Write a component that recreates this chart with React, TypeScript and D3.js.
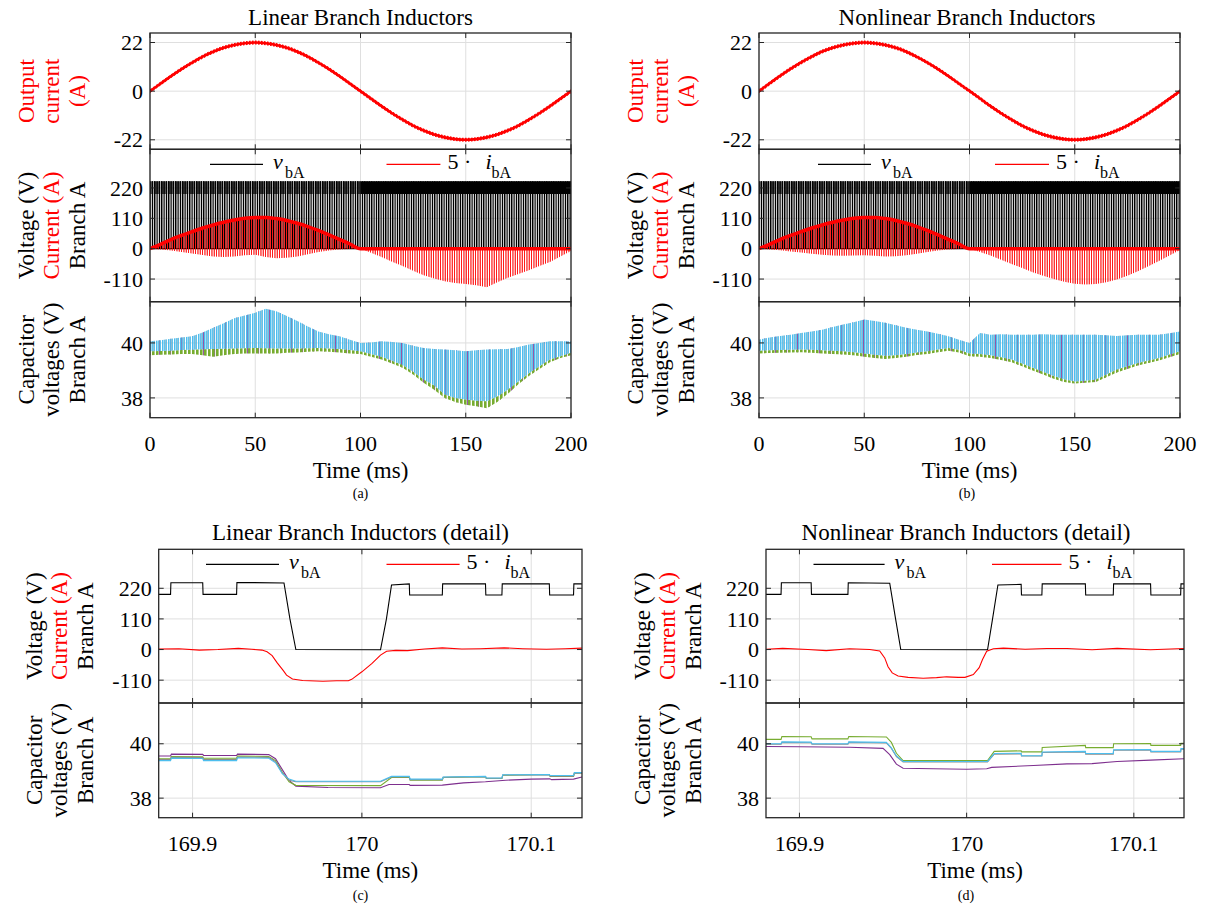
import React from 'react';
import * as d3 from 'd3';

const SERIF = '"Liberation Serif", "Times New Roman", Tinos, "DejaVu Serif", serif';
const GRID = '#dfdfdf';
const AXIS = '#262626';
const RED = '#ff0000';
const CAP_PURPLE = '#7e2f8e';
const CAP_GREEN = '#77ac30';
const CAP_GRAY = '#8c8c8c';
const CAP_CYAN = '#4dbeee';

// ---------------- data: full 200 ms runs ----------------
const timeFull = [0, 5, 10, 15, 20, 25, 30, 35, 40, 45, 50, 55, 60, 65, 70, 75, 80, 85, 90, 95, 100,
  105, 110, 115, 120, 125, 130, 135, 140, 145, 150, 155, 160, 165, 170, 175, 180, 185, 190, 195, 200];

const outputCurrentA = [0, 3.4, 6.8, 10.0, 12.9, 15.6, 17.8, 19.6, 20.9, 21.7, 22.0, 21.7, 20.9, 19.6, 17.8, 15.6, 12.9, 10.0, 6.8, 3.4, 0,
  -3.4, -6.8, -10.0, -12.9, -15.6, -17.8, -19.6, -20.9, -21.7, -22.0, -21.7, -20.9, -19.6, -17.8, -15.6, -12.9, -10.0, -6.8, -3.4, 0];
const outputCurrentB = [0, 3.5, 6.9, 10.1, 13.0, 15.6, 17.9, 19.6, 20.9, 21.7, 22.0, 21.7, 20.9, 19.6, 17.8, 15.5, 12.9, 10.0, 6.8, 3.4, 0.1,
  -3.3, -6.8, -10.0, -12.9, -15.6, -17.8, -19.6, -20.9, -21.7, -22.0, -21.7, -20.9, -19.6, -17.8, -15.6, -12.9, -10.0, -6.8, -3.4, 0];
const outputRipple = [0.9, 0.9]; // A, half-width of switching ripple (a, b)

// branch voltage switching levels (V): zero, lower and upper level
const vbALevels = [0, 198, 244];
const vbADenseFrom = [100, 100]; // ms where the upper band becomes solid (a, b)

// 5 * i_bA envelopes
const currentHighA = [0, 16, 33, 48, 62, 75, 86, 96, 104, 110, 113, 113, 109, 102, 92, 80, 66, 50, 34, 17, 0,
  0, 0, 0, 0, 0, 0, 0, 0, 0, 0, 0, 0, 0, 0, 0, 0, 0, 0, 0, 0];
const currentLowA = [0, -3, -7, -12, -17, -23, -28, -30, -28, -24, -22, -30, -35, -33, -28, -20, -12, -7, -3, -1, 0,
  -15, -30, -47, -63, -80, -96, -108, -118, -124, -128, -132, -140, -122, -105, -92, -78, -63, -48, -28, -8];
const currentHighB = [0, 16, 33, 48, 62, 75, 86, 96, 104, 110, 113, 113, 109, 102, 92, 80, 66, 50, 34, 17, 0,
  0, 0, 0, 0, 0, 0, 0, 0, 0, 0, 0, 0, 0, 0, 0, 0, 0, 0, 0, 0];
const currentLowB = [0, -3, -6, -10, -14, -18, -22, -25, -26, -25, -24, -26, -28, -27, -24, -18, -12, -7, -3, -1, 0,
  -12, -25, -40, -55, -70, -85, -98, -110, -120, -127, -130, -128, -122, -112, -98, -82, -64, -45, -25, -5];

// capacitor voltage envelopes (V)
const capTopA = [40.06, 40.1, 40.15, 40.2, 40.24, 40.38, 40.55, 40.72, 40.9, 41.0, 41.1, 41.24, 41.15, 40.98, 40.8, 40.6, 40.42, 40.32, 40.24, 40.12, 40.0,
  40.02, 40.06, 40.03, 40.0, 39.9, 39.82, 39.78, 39.76, 39.73, 39.7, 39.73, 39.76, 39.77, 39.78, 39.85, 39.94, 40.0, 40.06, 40.06, 40.06];
const capMidA = [39.7, 39.71, 39.72, 39.74, 39.75, 39.77, 39.78, 39.79, 39.8, 39.81, 39.82, 39.81, 39.8, 39.8, 39.8, 39.81, 39.82, 39.8, 39.78, 39.74, 39.7,
  39.6, 39.5, 39.35, 39.2, 38.95, 38.67, 38.45, 38.12, 38.0, 37.94, 37.9, 37.88, 38.05, 38.3, 38.6, 38.9, 39.15, 39.4, 39.52, 39.64];
const capBotA = [39.55, 39.57, 39.58, 39.6, 39.6, 39.55, 39.5, 39.55, 39.6, 39.62, 39.62, 39.62, 39.62, 39.64, 39.65, 39.68, 39.7, 39.68, 39.65, 39.62, 39.6,
  39.5, 39.4, 39.25, 39.1, 38.85, 38.55, 38.3, 38.0, 37.85, 37.75, 37.7, 37.62, 37.85, 38.15, 38.5, 38.8, 39.05, 39.3, 39.45, 39.55];

const capTopB = [40.12, 40.2, 40.25, 40.3, 40.36, 40.42, 40.48, 40.58, 40.67, 40.75, 40.85, 40.8, 40.73, 40.64, 40.55, 40.48, 40.42, 40.33, 40.24, 40.12, 40.0,
  40.36, 40.3, 40.32, 40.3, 40.3, 40.3, 40.32, 40.3, 40.3, 40.3, 40.3, 40.3, 40.28, 40.25, 40.28, 40.3, 40.3, 40.3, 40.35, 40.42];
const capMidB = [39.72, 39.73, 39.74, 39.75, 39.76, 39.75, 39.73, 39.72, 39.7, 39.66, 39.62, 39.57, 39.53, 39.55, 39.6, 39.65, 39.7, 39.76, 39.82, 39.75, 39.62,
  39.6, 39.55, 39.48, 39.4, 39.25, 39.1, 38.95, 38.8, 38.68, 38.6, 38.62, 38.67, 38.85, 39.03, 39.15, 39.27, 39.36, 39.45, 39.58, 39.7];
const capBotB = [39.62, 39.63, 39.64, 39.65, 39.66, 39.64, 39.62, 39.6, 39.58, 39.55, 39.5, 39.45, 39.42, 39.45, 39.5, 39.56, 39.6, 39.66, 39.72, 39.65, 39.52,
  39.5, 39.45, 39.38, 39.3, 39.15, 39.0, 38.85, 38.7, 38.58, 38.52, 38.55, 38.58, 38.75, 38.92, 39.05, 39.18, 39.27, 39.36, 39.48, 39.6];

// ---------------- data: detail around 170 ms ----------------
type Pt = [number, number];
const vbAC: Pt[] = [[169.88, 198], [169.887, 198], [169.8872, 240], [169.906, 240], [169.9062, 198], [169.926, 198], [169.9262, 241], [169.954, 239], [169.9575, 110], [169.961, 0], [170.011, -1], [170.0145, 110], [170.0175, 232], [170.028, 236], [170.0282, 196], [170.0475, 196], [170.0477, 236], [170.073, 236], [170.0732, 196], [170.0827, 196], [170.0829, 236], [170.1107, 236], [170.1109, 196], [170.125, 196], [170.1252, 236], [170.13, 236]];
const iAC: Pt[] = [[169.88, 2], [169.892, 3], [169.904, -2], [169.915, 0], [169.927, 4], [169.935, 1], [169.941, -2], [169.944, -8], [169.947, -22], [169.95, -48], [169.9535, -75], [169.9555, -92], [169.959, -106], [169.965, -111], [169.977, -114], [169.985, -112], [169.992, -112], [169.994, -107], [170.0, -80], [170.006, -50], [170.011, -20], [170.0146, -6], [170.02, -3], [170.027, -4], [170.037, 2], [170.0475, 6], [170.059, 2], [170.07, 3], [170.084, 6], [170.095, 3], [170.109, 1], [170.12, 3], [170.13, 5]];
const capPurpleC: Pt[] = [[169.88, 39.55], [169.887, 39.55], [169.8875, 39.62], [169.906, 39.61], [169.9065, 39.57], [169.926, 39.57], [169.9265, 39.62], [169.945, 39.6], [169.949, 39.45], [169.953, 39.05], [169.957, 38.65], [169.961, 38.44], [169.98, 38.39], [170.011, 38.38], [170.016, 38.5], [170.028, 38.5], [170.0285, 38.47], [170.0475, 38.48], [170.06, 38.56], [170.073, 38.6], [170.085, 38.66], [170.1, 38.7], [170.111, 38.71], [170.112, 38.68], [170.125, 38.7], [170.13, 38.78]];
const capGreenC: Pt[] = [[169.88, 39.45], [169.887, 39.45], [169.8875, 39.53], [169.906, 39.52], [169.9065, 39.47], [169.926, 39.47], [169.9265, 39.55], [169.945, 39.53], [169.949, 39.38], [169.953, 38.95], [169.957, 38.6], [169.961, 38.47], [170.011, 38.46], [170.0175, 38.76], [170.028, 38.76], [170.0285, 38.66], [170.0475, 38.66], [170.048, 38.76], [170.073, 38.79], [170.0735, 38.72], [170.0827, 38.72], [170.0832, 38.84], [170.1107, 38.87], [170.1112, 38.8], [170.125, 38.8], [170.1255, 38.92], [170.13, 38.93]];
const capGrayC: Pt[] = [[169.88, 39.42], [169.887, 39.42], [169.8875, 39.5], [169.906, 39.49], [169.9065, 39.42], [169.926, 39.42], [169.9265, 39.51], [169.945, 39.5], [169.949, 39.34], [169.953, 38.92], [169.957, 38.66], [169.961, 38.6], [170.011, 38.6], [170.0175, 38.78], [170.028, 38.78], [170.0285, 38.68], [170.0475, 38.68], [170.048, 38.77], [170.073, 38.79], [170.0735, 38.73], [170.0827, 38.73], [170.0832, 38.85], [170.1107, 38.86], [170.1112, 38.81], [170.125, 38.81], [170.1255, 38.92], [170.13, 38.92]];
const capCyanC: Pt[] = [[169.88, 39.38], [169.887, 39.38], [169.8875, 39.47], [169.906, 39.46], [169.9065, 39.38], [169.926, 39.38], [169.9265, 39.48], [169.945, 39.47], [169.949, 39.3], [169.953, 38.9], [169.957, 38.7], [169.961, 38.62], [170.011, 38.62], [170.0175, 38.8], [170.028, 38.8], [170.0285, 38.7], [170.0475, 38.7], [170.048, 38.78], [170.073, 38.8], [170.0735, 38.74], [170.0827, 38.74], [170.0832, 38.86], [170.1107, 38.87], [170.1112, 38.83], [170.125, 38.83], [170.1255, 38.94], [170.13, 38.94]];

const vbAD: Pt[] = [[169.88, 198], [169.889, 198], [169.8892, 240], [169.907, 240], [169.9072, 198], [169.929, 198], [169.9292, 240], [169.954, 238], [169.9575, 110], [169.9606, 0], [170.0125, -1], [170.0155, 110], [170.0187, 232], [170.0326, 234], [170.0328, 196], [170.045, 196], [170.0452, 236], [170.071, 236], [170.0712, 196], [170.0877, 196], [170.0879, 236], [170.11, 236], [170.1102, 196], [170.128, 196], [170.1282, 236], [170.13, 236]];
const iAD: Pt[] = [[169.88, 1], [169.89, 4], [169.905, 0], [169.916, -4], [169.93, 3], [169.942, 0], [169.948, -5], [169.951, -30], [169.953, -62], [169.9555, -84], [169.959, -95], [169.965, -100], [169.974, -103], [169.982, -101], [169.988, -98], [169.995, -100], [169.999, -100], [170.004, -90], [170.0075, -65], [170.0095, -36], [170.012, -6], [170.016, 3], [170.022, 5], [170.035, 1], [170.048, 4], [170.06, 4], [170.075, -1], [170.09, 4], [170.11, -1], [170.13, 4]];
const capGreenD: Pt[] = [[169.88, 40.16], [169.889, 40.16], [169.8895, 40.27], [169.907, 40.26], [169.9075, 40.18], [169.929, 40.18], [169.9295, 40.27], [169.952, 40.25], [169.955, 40.05], [169.958, 39.65], [169.962, 39.38], [170.0125, 39.38], [170.0165, 39.72], [170.0326, 39.74], [170.0328, 39.7], [170.045, 39.7], [170.0452, 39.86], [170.071, 39.94], [170.0712, 39.86], [170.0877, 39.86], [170.0879, 40.0], [170.11, 40.01], [170.1102, 39.94], [170.128, 39.94], [170.1282, 40.02], [170.13, 40.02]];
const capGrayD: Pt[] = [[169.88, 39.98], [169.889, 39.98], [169.8895, 40.05], [169.907, 40.04], [169.9075, 39.98], [169.929, 39.98], [169.9295, 40.05], [169.952, 40.03], [169.955, 39.83], [169.958, 39.53], [169.962, 39.33], [170.0125, 39.33], [170.0165, 39.62], [170.0326, 39.63], [170.0328, 39.55], [170.045, 39.55], [170.0452, 39.68], [170.071, 39.7], [170.0712, 39.62], [170.0877, 39.62], [170.0879, 39.76], [170.11, 39.77], [170.1102, 39.7], [170.128, 39.7], [170.1282, 39.8], [170.13, 39.8]];
const capCyanD: Pt[] = [[169.88, 40.0], [169.889, 40.0], [169.8895, 40.07], [169.907, 40.06], [169.9075, 40.0], [169.929, 40.0], [169.9295, 40.07], [169.952, 40.05], [169.955, 39.85], [169.958, 39.55], [169.962, 39.35], [170.0125, 39.35], [170.0165, 39.64], [170.0326, 39.65], [170.0328, 39.56], [170.045, 39.56], [170.0452, 39.7], [170.071, 39.72], [170.0712, 39.64], [170.0877, 39.64], [170.0879, 39.78], [170.11, 39.79], [170.1102, 39.72], [170.128, 39.72], [170.1282, 39.82], [170.13, 39.82]];
const capPurpleD: Pt[] = [[169.88, 39.9], [169.9, 39.89], [169.93, 39.87], [169.95, 39.83], [169.954, 39.6], [169.958, 39.25], [169.962, 39.1], [169.98, 39.08], [170.0, 39.06], [170.012, 39.08], [170.015, 39.13], [170.04, 39.2], [170.06, 39.26], [170.075, 39.27], [170.09, 39.35], [170.11, 39.4], [170.13, 39.45]];

// ---------------- axes ----------------
const xDomainFull = [0, 200];
const xDomainDetail = [169.88, 170.13];
const xTicksFull = [0, 50, 100, 150, 200];
const xTickLabelsFull = ['0', '50', '100', '150', '200'];
const xTicksDetail = [169.9, 170, 170.1];
const xTickLabelsDetail = ['169.9', '170', '170.1'];
const yDomainOut = [-26.3, 26.3];
const yTicksOut = [-22, 0, 22];
const yDomainBranch = [-192, 360];
const yTicksBranch = [-110, 0, 110, 220];
const yDomainCap = [37.28, 41.5];
const yTicksCap = [38, 40];

// ---------------- layout ----------------
const ROW_OUT = [33, 149.3];
const ROW_BR = [149.3, 301.7];
const ROW_CAP = [301.7, 417.7];
const ROW_BR_D = [549.3, 703];
const ROW_CAP_D = [703, 817.7];

const TXT: React.CSSProperties = { fontFamily: SERIF };

type Scale = d3.ScaleLinear<number, number>;

function Axes(props: { id: string; x: Scale; y: Scale; xTicks: number[]; yTicks: number[]; xTickLabels?: string[]; children?: React.ReactNode }) {
  const { id, x, y, xTicks, yTicks, xTickLabels, children } = props;
  const [L, R] = x.range();
  const [B, T] = y.range();
  const tk = 5;
  return (
    <g>
      <defs>
        <clipPath id={id}><rect x={L} y={T} width={R - L} height={B - T} /></clipPath>
      </defs>
      {xTicks.map(t => <line key={'gx' + t} x1={x(t)} x2={x(t)} y1={T} y2={B} stroke={GRID} strokeWidth={1} />)}
      {yTicks.map(v => <line key={'gy' + v} x1={L} x2={R} y1={y(v)} y2={y(v)} stroke={GRID} strokeWidth={1} />)}
      <g clipPath={`url(#${id})`}>{children}</g>
      {xTicks.map(t => (
        <g key={'tx' + t} stroke={AXIS} strokeWidth={1}>
          <line x1={x(t)} x2={x(t)} y1={T} y2={T + tk} />
          <line x1={x(t)} x2={x(t)} y1={B} y2={B - tk} />
        </g>
      ))}
      {yTicks.map(v => (
        <g key={'ty' + v} stroke={AXIS} strokeWidth={1}>
          <line x1={L} x2={L + tk} y1={y(v)} y2={y(v)} />
          <line x1={R} x2={R - tk} y1={y(v)} y2={y(v)} />
        </g>
      ))}
      <rect x={L} y={T} width={R - L} height={B - T} fill="none" stroke={AXIS} strokeWidth={1.3} />
      {yTicks.map(v => (
        <text key={'ly' + v} style={TXT} x={L - 7} y={y(v)} dy="0.35em" textAnchor="end" fontSize={22} fill="#000">{String(v)}</text>
      ))}
      {xTickLabels && xTicks.map((t, i) => (
        <text key={'lx' + t} style={TXT} x={x(t)} y={B + 33} textAnchor="middle" fontSize={22} fill="#000">{xTickLabels[i]}</text>
      ))}
    </g>
  );
}

function YLabel({ left, yc, lines }: { left: number; yc: number; lines: { text: string; color: string }[] }) {
  const offsets = [-124, -99, -73];
  return (
    <g>
      {lines.map((l, i) => (
        <text key={i} style={TXT} transform={`translate(${left + offsets[i]},${yc}) rotate(-90)`} textAnchor="middle"
          dominantBaseline="central" fill={l.color} fontSize={23}>{l.text}</text>
      ))}
    </g>
  );
}

function Legend({ bx0, bx1, rx0, rx1, top }: { bx0: number; bx1: number; rx0: number; rx1: number; top: number }) {
  const ly = top + 15;
  return (
    <g fontSize={22} fill="#000">
      <line x1={bx0} x2={bx1} y1={ly} y2={ly} stroke="#000" strokeWidth={1.2} />
      <text style={TXT} x={bx1 + 10} y={top + 20} fontStyle="italic">v</text>
      <text style={TXT} x={bx1 + 22} y={top + 28.5} fontSize={16}>bA</text>
      <line x1={rx0} x2={rx1} y1={ly} y2={ly} stroke={RED} strokeWidth={1.2} />
      <text style={TXT} x={rx1 + 7} y={top + 20}>5 ·</text>
      <text style={TXT} x={rx1 + 45} y={top + 20} fontStyle="italic">i</text>
      <text style={TXT} x={rx1 + 51} y={top + 28.5} fontSize={16}>bA</text>
    </g>
  );
}

const LBL_OUT = [{ text: 'Output', color: RED }, { text: 'current', color: RED }, { text: '(A)', color: RED }];
const LBL_BR = [{ text: 'Voltage (V)', color: '#000' }, { text: 'Current (A)', color: RED }, { text: 'Branch A', color: '#000' }];
const LBL_CAP = [{ text: 'Capacitor', color: '#000' }, { text: 'voltages (V)', color: '#000' }, { text: 'Branch A', color: '#000' }];

interface FullSpec {
  key: string; left: number; right: number; title: string; caption: string; centerX: number;
  out: number[]; ripple: number; hi: number[]; lo: number[]; denseFrom: number;
  capTop: number[]; capMid: number[]; capBot: number[];
  legend: { bx0: number; bx1: number; rx0: number; rx1: number };
}

function FullPanel({ s }: { s: FullSpec }) {
  const x = d3.scaleLinear().domain(xDomainFull).range([s.left, s.right]);
  const yO = d3.scaleLinear().domain(yDomainOut).range([ROW_OUT[1], ROW_OUT[0]]);
  const yB = d3.scaleLinear().domain(yDomainBranch).range([ROW_BR[1], ROW_BR[0]]);
  const yC = d3.scaleLinear().domain(yDomainCap).range([ROW_CAP[1], ROW_CAP[0]]);
  const idx = timeFull.map((_, i) => i);
  const first = idx.filter(i => timeFull[i] <= s.denseFrom);
  const second = idx.filter(i => timeFull[i] >= s.denseFrom);
  const X = (i: number) => x(timeFull[i]);

  const outArea = d3.area<number>().x(X).y0(i => yO(s.out[i] - s.ripple)).y1(i => yO(s.out[i] + s.ripple)).curve(d3.curveCatmullRom);
  const band = (lo: number, hi: number) => d3.area<number>().x(X).y0(yB(lo)).y1(yB(hi));
  const redArea = d3.area<number>().x(X).y0(i => yB(s.lo[i])).y1(i => yB(s.hi[i]));
  const redLine = d3.line<number>().x(X).y(i => yB(s.hi[i])).curve(d3.curveMonotoneX);
  const capArea = (a: number[], b: number[]) => d3.area<number>().x(X).y0(i => yC(a[i])).y1(i => yC(b[i]));
  const [vZero, vMid, vHigh] = vbALevels;
  const k = s.key;

  return (
    <g>
      <text style={TXT} x={s.centerX} y={25} textAnchor="middle" fontSize={23}>{s.title}</text>
      <Axes id={`clipO${k}`} x={x} y={yO} xTicks={xTicksFull} yTicks={yTicksOut}>
        <path d={outArea(idx) || ''} fill="url(#pRedOut)" />
        <path d={d3.line<number>().x(X).y(i => yO(s.out[i])).curve(d3.curveCatmullRom)(idx) || ''} fill="none" stroke={RED} strokeWidth={2.6} />
      </Axes>
      <Axes id={`clipB${k}`} x={x} y={yB} xTicks={xTicksFull} yTicks={yTicksBranch}>
        <path d={band(vZero, vHigh)(idx) || ''} fill="url(#pBlackSparse)" />
        <path d={band(vMid, vHigh)(first) || ''} fill="url(#pBlackMid)" />
        <path d={band(vMid, vHigh)(second) || ''} fill="#000" />
        <line x1={x(0)} x2={x(200)} y1={yB(0)} y2={yB(0)} stroke="#000" strokeWidth={1.2} />
        <path d={redArea(idx) || ''} fill="url(#pRed)" />
        <path d={redLine(idx) || ''} fill="none" stroke={RED} strokeWidth={3.5} />
      </Axes>
      <Legend {...s.legend} top={ROW_BR[0]} />
      <Axes id={`clipC${k}`} x={x} y={yC} xTicks={xTicksFull} yTicks={yTicksCap} xTickLabels={xTickLabelsFull}>
        <path d={capArea(s.capBot, s.capTop)(idx) || ''} fill="url(#pPurple)" />
        <path d={capArea(s.capBot, s.capMid)(idx) || ''} fill="url(#pGreen)" />
        <path d={capArea(s.capMid, s.capTop)(idx) || ''} fill="url(#pGray)" />
        <path d={capArea(s.capMid, s.capTop)(idx) || ''} fill="url(#pCyan)" />
      </Axes>
      <YLabel left={s.left} yc={(ROW_OUT[0] + ROW_OUT[1]) / 2} lines={LBL_OUT} />
      <YLabel left={s.left} yc={(ROW_BR[0] + ROW_BR[1]) / 2} lines={LBL_BR} />
      <YLabel left={s.left} yc={(ROW_CAP[0] + ROW_CAP[1]) / 2} lines={LBL_CAP} />
      <text style={TXT} x={(s.left + s.right) / 2} y={ROW_CAP[1] + 60} textAnchor="middle" fontSize={23}>Time (ms)</text>
      <text style={TXT} x={s.centerX} y={ROW_CAP[1] + 80} textAnchor="middle" fontSize={14}>{s.caption}</text>
    </g>
  );
}

interface DetailSpec {
  key: string; left: number; right: number; title: string; caption: string; centerX: number;
  v: Pt[]; i: Pt[]; caps: { pts: Pt[]; color: string }[];
  legend: { bx0: number; bx1: number; rx0: number; rx1: number };
}

function DetailPanel({ s }: { s: DetailSpec }) {
  const x = d3.scaleLinear().domain(xDomainDetail).range([s.left, s.right]);
  const yB = d3.scaleLinear().domain(yDomainBranch).range([ROW_BR_D[1], ROW_BR_D[0]]);
  const yC = d3.scaleLinear().domain(yDomainCap).range([ROW_CAP_D[1], ROW_CAP_D[0]]);
  const lineB = d3.line<Pt>().x(d => x(d[0])).y(d => yB(d[1]));
  const lineC = d3.line<Pt>().x(d => x(d[0])).y(d => yC(d[1]));
  const k = s.key;
  return (
    <g>
      <text style={TXT} x={s.centerX} y={540} textAnchor="middle" fontSize={23}>{s.title}</text>
      <Axes id={`clipDB${k}`} x={x} y={yB} xTicks={xTicksDetail} yTicks={yTicksBranch}>
        <path d={lineB(s.v) || ''} fill="none" stroke="#000" strokeWidth={1.1} />
        <path d={lineB(s.i) || ''} fill="none" stroke={RED} strokeWidth={1.1} />
      </Axes>
      <Legend {...s.legend} top={ROW_BR_D[0]} />
      <Axes id={`clipDC${k}`} x={x} y={yC} xTicks={xTicksDetail} yTicks={yTicksCap} xTickLabels={xTickLabelsDetail}>
        {s.caps.map((c, j) => <path key={j} d={lineC(c.pts) || ''} fill="none" stroke={c.color} strokeWidth={1.1} />)}
      </Axes>
      <YLabel left={s.left} yc={(ROW_BR_D[0] + ROW_BR_D[1]) / 2} lines={LBL_BR} />
      <YLabel left={s.left} yc={(ROW_CAP_D[0] + ROW_CAP_D[1]) / 2} lines={LBL_CAP} />
      <text style={TXT} x={(s.left + s.right) / 2} y={ROW_CAP_D[1] + 60} textAnchor="middle" fontSize={23}>Time (ms)</text>
      <text style={TXT} x={s.centerX} y={ROW_CAP_D[1] + 82} textAnchor="middle" fontSize={14}>{s.caption}</text>
    </g>
  );
}

function Stripes({ id, w, stripes, color }: { id: string; w: number; stripes: [number, number][]; color: string }) {
  return (
    <pattern id={id} patternUnits="userSpaceOnUse" width={w} height={600}>
      {stripes.map(([sx, sw], j) => <rect key={j} x={sx} y={0} width={sw} height={600} fill={color} />)}
    </pattern>
  );
}

export default function App() {
  const panelA: FullSpec = {
    key: 'a', left: 150, right: 571, title: 'Linear Branch Inductors', caption: '(a)', centerX: 360.5,
    out: outputCurrentA, ripple: outputRipple[0], hi: currentHighA, lo: currentLowA, denseFrom: vbADenseFrom[0],
    capTop: capTopA, capMid: capMidA, capBot: capBotA,
    legend: { bx0: 210, bx1: 263, rx0: 386.5, rx1: 440.4 },
  };
  const panelB: FullSpec = {
    key: 'b', left: 759, right: 1180, title: 'Nonlinear Branch Inductors', caption: '(b)', centerX: 967,
    out: outputCurrentB, ripple: outputRipple[1], hi: currentHighB, lo: currentLowB, denseFrom: vbADenseFrom[1],
    capTop: capTopB, capMid: capMidB, capBot: capBotB,
    legend: { bx0: 818, bx1: 871, rx0: 995, rx1: 1049 },
  };
  const panelC: DetailSpec = {
    key: 'c', left: 158.7, right: 582, title: 'Linear Branch Inductors (detail)', caption: '(c)', centerX: 360.5,
    v: vbAC, i: iAC,
    caps: [{ pts: capPurpleC, color: CAP_PURPLE }, { pts: capGreenC, color: CAP_GREEN }, { pts: capGrayC, color: CAP_GRAY }, { pts: capCyanC, color: CAP_CYAN }],
    legend: { bx0: 206, bx1: 279, rx0: 386.5, rx1: 459.6 },
  };
  const panelD: DetailSpec = {
    key: 'd', left: 766, right: 1184, title: 'Nonlinear Branch Inductors (detail)', caption: '(d)', centerX: 966,
    v: vbAD, i: iAD,
    caps: [{ pts: capPurpleD, color: CAP_PURPLE }, { pts: capGreenD, color: CAP_GREEN }, { pts: capGrayD, color: CAP_GRAY }, { pts: capCyanD, color: CAP_CYAN }],
    legend: { bx0: 813.5, bx1: 884.6, rx0: 992, rx1: 1061.5 },
  };
  return (
    <svg width={1207} height={912} viewBox="0 0 1207 912"
      style={{ position: 'absolute', left: 0, top: 0, background: '#fff', fontFamily: SERIF }}>
      <defs>
        <Stripes id="pBlackSparse" w={7} stripes={[[0, 1.5], [2.5, 1.2], [4.8, 1.4]]} color="#000" />
        <Stripes id="pBlackMid" w={7} stripes={[[0, 1.7], [2.3, 1.5], [4.4, 1.8]]} color="#000" />
        <Stripes id="pRed" w={7} stripes={[[1.4, 1.1], [3.7, 1.1], [6.1, 0.9]]} color={RED} />
        <Stripes id="pRedOut" w={3} stripes={[[0, 1.6]]} color={RED} />
        <Stripes id="pCyan" w={6} stripes={[[0, 1.5], [2.1, 1.3], [4.1, 0.9]]} color={CAP_CYAN} />
        <Stripes id="pGray" w={6} stripes={[[3.5, 0.6]]} color={CAP_GRAY} />
        <Stripes id="pGreen" w={4} stripes={[[0, 2.6]]} color={CAP_GREEN} />
        <Stripes id="pPurple" w={11} stripes={[[5.2, 0.9]]} color={CAP_PURPLE} />
      </defs>
      <rect x={0} y={0} width={1207} height={912} fill="#fff" />
      <FullPanel s={panelA} />
      <FullPanel s={panelB} />
      <DetailPanel s={panelC} />
      <DetailPanel s={panelD} />
    </svg>
  );
}
